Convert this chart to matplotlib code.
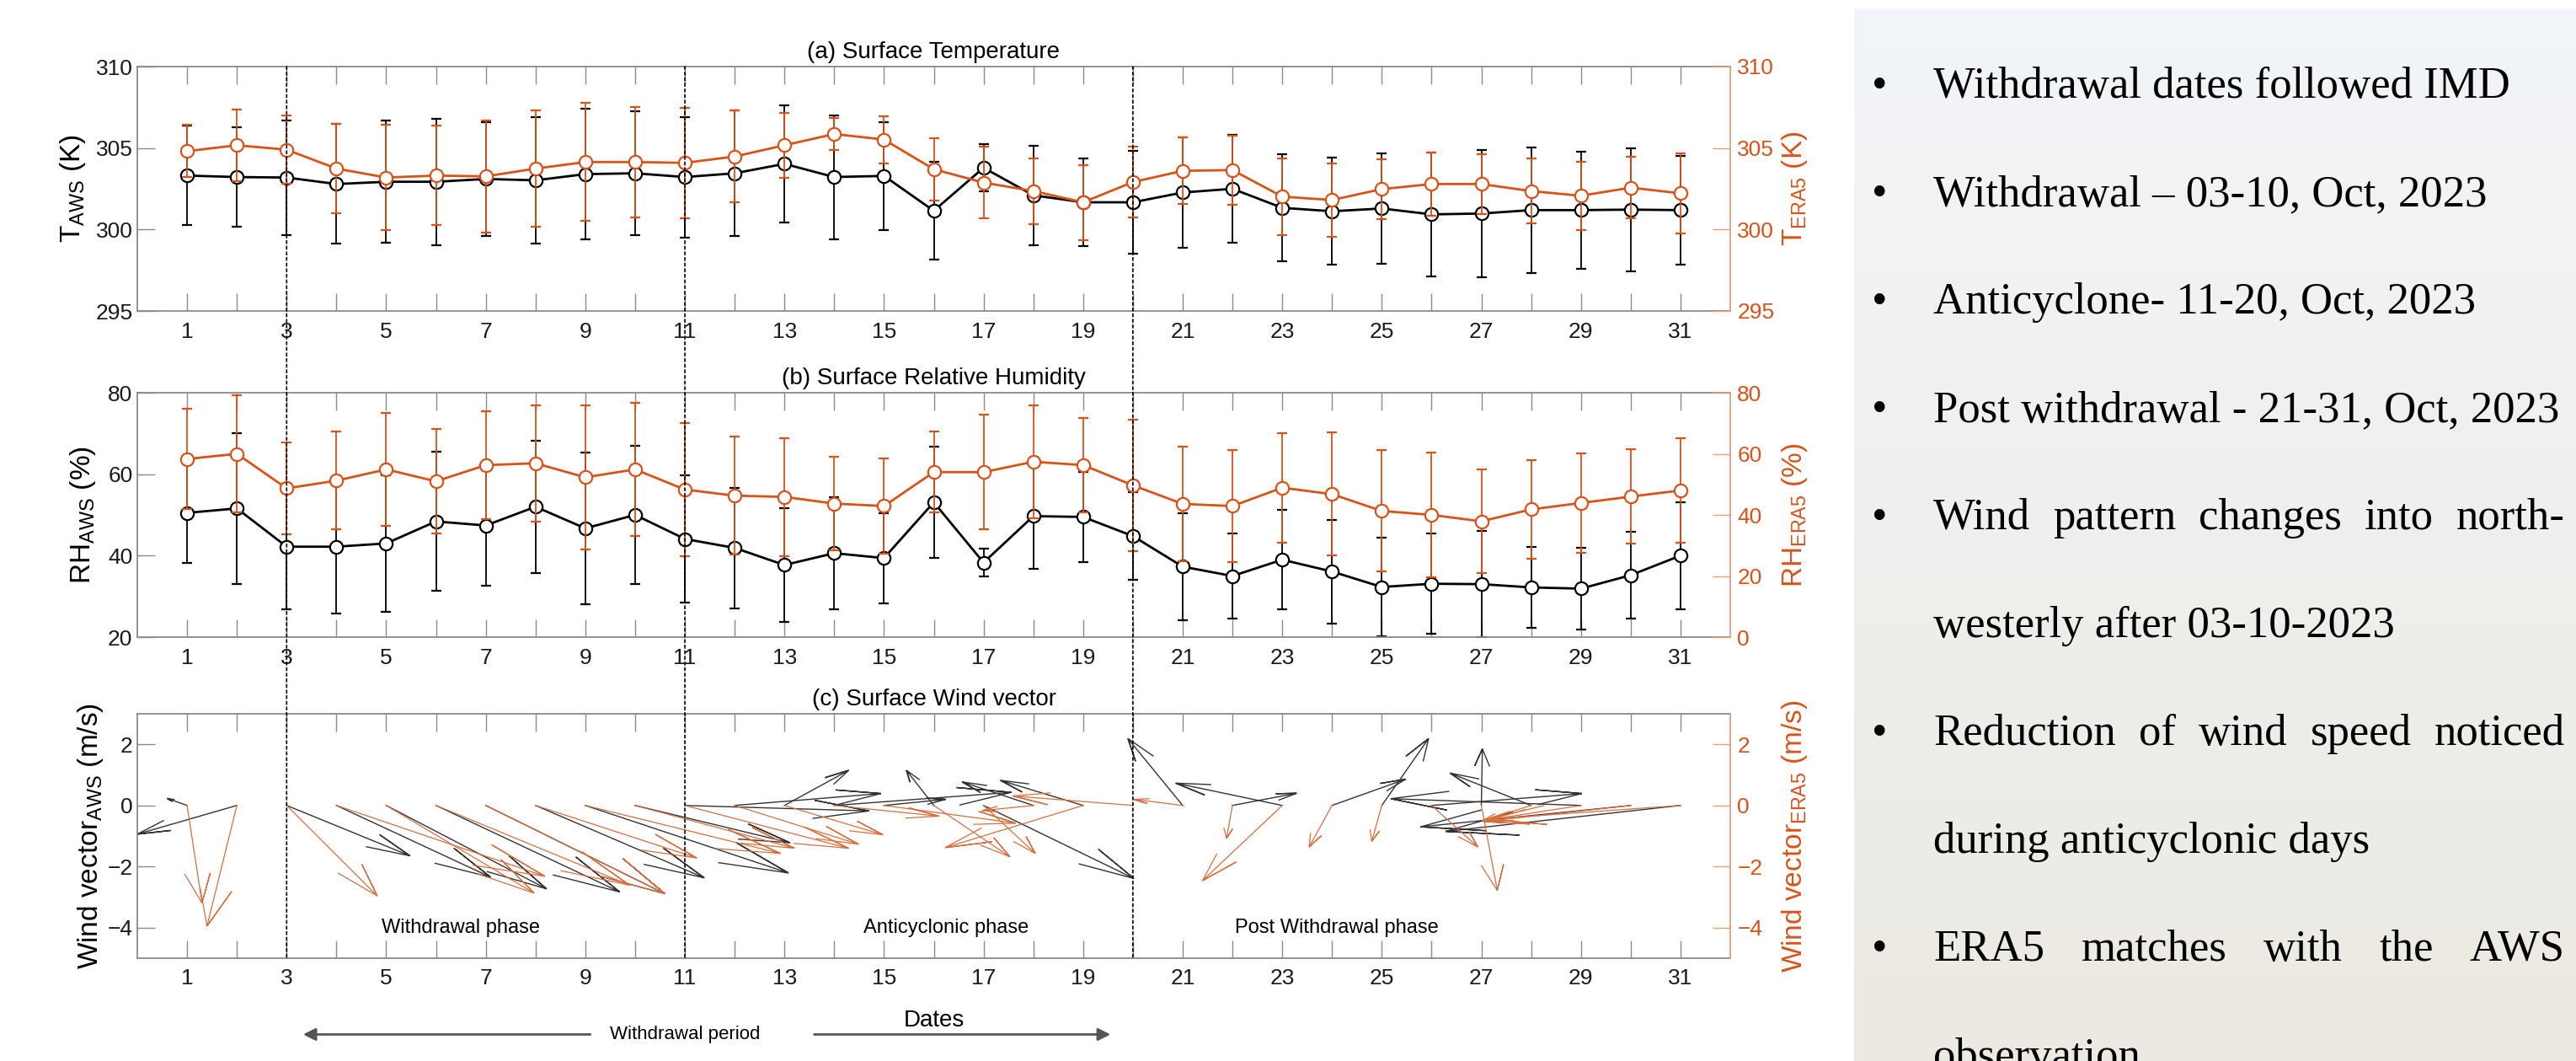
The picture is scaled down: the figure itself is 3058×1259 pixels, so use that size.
import numpy as np
import matplotlib
matplotlib.use('Agg')
import matplotlib.pyplot as plt
from matplotlib.patches import ConnectionPatch

plt.rcParams['font.family'] = ['Liberation Sans', 'DejaVu Sans']

# ---------------- data ----------------
days = np.arange(1, 32)

t_aws = [303.31, 303.22, 303.19, 302.79, 302.93, 302.93, 303.10, 303.02, 303.40, 303.45,
         303.22, 303.45, 304.03, 303.22, 303.29, 301.15, 303.79, 302.10, 301.67, 301.67,
         302.27, 302.50, 301.33, 301.12, 301.29, 300.93, 300.98, 301.19, 301.19, 301.22, 301.19]
t_aws_sd = [3.05, 3.06, 3.52, 3.67, 3.76, 3.88, 3.50, 3.90, 4.00, 3.80, 3.70, 3.85, 3.60, 3.80,
            3.30, 3.00, 1.45, 3.06, 2.70, 3.15, 3.40, 3.33, 3.28, 3.30, 3.37, 3.80, 3.90, 3.85,
            3.58, 3.78, 3.35]
t_era = [304.81, 305.17, 304.90, 303.74, 303.19, 303.31, 303.26, 303.74, 304.14, 304.14,
         304.09, 304.48, 305.17, 305.86, 305.52, 303.70, 302.88, 302.36, 301.67, 302.91,
         303.60, 303.65, 302.02, 301.81, 302.48, 302.79, 302.79, 302.36, 302.07, 302.57, 302.22]
t_era_sd = [1.60, 2.20, 2.08, 2.74, 3.25, 3.05, 3.43, 3.55, 3.62, 3.40, 3.40, 2.83, 2.00, 0.97,
            1.45, 1.92, 2.20, 2.02, 2.30, 2.17, 2.03, 2.13, 2.35, 2.26, 1.85, 1.94, 1.83, 2.00,
            2.10, 1.90, 2.45]

rh_aws = [50.5, 51.6, 42.2, 42.2, 43.0, 48.4, 47.4, 52.0, 46.7, 50.0, 44.1, 41.9, 37.7, 40.6,
          39.4, 53.1, 38.3, 49.7, 49.5, 44.8, 37.3, 35.0, 39.0, 36.1, 32.3, 33.1, 33.0, 32.2,
          31.9, 35.2, 40.0]
rh_aws_sd = [12.2, 18.5, 15.3, 16.4, 16.7, 17.1, 14.8, 16.2, 18.6, 17.0, 15.6, 14.8, 14.0, 13.8,
             11.1, 13.6, 3.4, 13.0, 11.1, 10.8, 13.1, 10.4, 12.2, 12.7, 12.1, 12.3, 13.0, 10.0,
             10.0, 10.6, 13.2]
rh_era = [58.3, 60.0, 48.7, 51.2, 54.9, 51.0, 56.3, 56.9, 52.3, 54.9, 48.3, 46.3, 45.9, 43.7,
          42.9, 54.0, 54.0, 57.4, 56.3, 49.7, 43.6, 42.9, 48.9, 46.8, 41.3, 40.0, 37.9, 41.8,
          43.9, 46.0, 48.0]
rh_era_sd = [16.5, 19.1, 15.0, 16.0, 18.6, 17.1, 17.7, 19.1, 23.6, 21.9, 21.8, 19.4, 19.3, 15.2,
             15.5, 13.3, 18.7, 18.4, 15.4, 21.6, 18.75, 18.3, 17.9, 20.1, 19.9, 20.55, 17.0,
             16.05, 16.25, 15.5, 17.1]

# daily mean wind components (feather plot, m/s)
u_aws = [-0.40, -2.00, 2.48, 3.10, 3.22, 3.69, 3.60, 3.39, 4.08, 3.11, 3.70, 2.94, 1.29, 3.56,
         1.24, -0.55, 3.02, -1.43, -1.66, 0.00, -1.10, 1.29, -2.14, 1.48, 0.94, 3.02, 0.02,
         -1.63, -3.82, -4.22, -4.72]
v_aws = [0.23, -0.94, -1.65, -2.35, -2.73, -2.83, -2.89, -2.37, -2.21, -1.22, -0.18, 0.39, 1.15,
         0.43, 0.20, 1.15, -2.39, 0.77, 0.82, 0.00, 2.19, 0.40, 0.73, 0.86, 2.19, 0.39, 1.85,
         1.06, 0.22, -0.70, -0.85]
u_era = [0.30, -0.60, 1.82, 4.19, 2.97, 3.89, 3.60, 3.24, 3.92, 3.20, 3.29, 2.49, 1.98, 2.10,
         2.65, 1.53, 1.04, -1.03, -2.77, -2.41, -0.99, -0.12, -1.60, -0.46, -0.20, 0.93, 0.32,
         -0.98, -1.98, -2.96, -3.87]
v_era = [-3.19, -3.95, -2.96, -2.32, -2.87, -2.61, -2.89, -1.72, -1.57, -1.40, -1.40, -1.27,
         -0.96, -0.35, -0.58, -1.68, -1.57, -0.17, -1.38, 0.31, 0.20, -1.08, -2.46, -1.36,
         -1.17, -1.36, -2.78, -0.50, -0.50, -0.53, -0.45]

phase_lines = [3, 11, 20]
phases = [('Withdrawal phase', 6.5), ('Anticyclonic phase', 16.25), ('Post Withdrawal phase', 24.1)]

notes = [
    ('Withdrawal dates followed IMD', True, False),
    ('Withdrawal \u2013 03-10, Oct, 2023', True, False),
    ('Anticyclone- 11-20, Oct, 2023', True, False),
    ('Post withdrawal - 21-31, Oct, 2023', True, False),
    ('Wind pattern changes into north-', True, True),
    ('westerly after 03-10-2023', False, False),
    ('Reduction of wind speed noticed', True, True),
    ('during anticyclonic days', False, False),
    ('ERA5 matches with the AWS', True, True),
    ('observation', False, False),
]

# ---------------- figure ----------------
W, H = 3058, 1259
fig = plt.figure(figsize=(W / 100, H / 100), dpi=100)

GRAY = '#8a8a8a'
ORANGE = '#D95319'
ORANGE_LT = '#E6A07A'


def px_axes(left, top, right, bottom):
    return fig.add_axes([left / W, 1 - bottom / H, (right - left) / W, (bottom - top) / H])


def style(ax, axr, ylim, ylim_r, yt, yt_r, title):
    ax.set_xlim(0, 32)
    ax.set_xticks(days)
    ax.set_xticklabels([str(d) if d % 2 else '' for d in days])
    ax.set_ylim(*ylim)
    ax.set_yticks(yt)
    axr.set_ylim(*ylim_r)
    axr.set_yticks(yt_r)
    ax.tick_params(axis='x', direction='in', length=15, width=1, top=True, color=GRAY,
                   labelcolor='#1a1a1a', labelsize=19, pad=9)
    ax.tick_params(axis='y', direction='in', length=15, width=1, color=GRAY,
                   labelcolor='#1a1a1a', labelsize=19, pad=4)
    axr.tick_params(axis='y', direction='in', length=15, width=1, color=ORANGE_LT,
                    labelcolor=ORANGE, labelsize=19, pad=6)
    for s in ['left', 'top', 'bottom']:
        ax.spines[s].set_color(GRAY)
        ax.spines[s].set_linewidth(1.3)
        axr.spines[s].set_visible(False)
    ax.spines['right'].set_visible(False)
    axr.spines['right'].set_color(ORANGE_LT)
    axr.spines['right'].set_linewidth(1.3)
    ax.set_title(title, fontsize=20, pad=7)


def feather(ax, u, v, color, lw):
    head = np.array([0, 1, 0.7, 1, 0.7]) + 1j * np.array([0, 0, 0.08, 0, -0.08])
    for d, uu, vv in zip(days, u, v):
        if uu == 0 and vv == 0:
            continue
        pts = head * complex(uu, vv) + d
        ax.plot(pts.real, pts.imag, color=color, lw=lw, solid_joinstyle='miter')


ax1 = px_axes(163, 79, 2054, 369)
ax2 = px_axes(163, 466, 2054, 756)
ax3 = px_axes(163, 847, 2054, 1137)
ax1r = ax1.twinx()
ax2r = ax2.twinx()
ax3r = ax3.twinx()

eb_k = dict(color='k', lw=2.0, marker='o', ms=11, mfc='white', mec='k', mew=1.6,
            ecolor='k', elinewidth=1.3, capsize=4, capthick=1.8)
eb_o = dict(color=ORANGE, lw=2.0, marker='o', ms=11, mfc='white', mec=ORANGE, mew=1.6,
            ecolor=ORANGE, elinewidth=1.3, capsize=4, capthick=1.8)

# (a) temperature
ax1.errorbar(days, t_aws, yerr=t_aws_sd, **eb_k)
ax1r.errorbar(days, t_era, yerr=t_era_sd, **eb_o)
style(ax1, ax1r, (295, 310), (295, 310), [295, 300, 305, 310], [295, 300, 305, 310],
      '(a) Surface Temperature')
ax1.set_ylabel(r'T$_\mathregular{AWS}$ (K)', fontsize=24)
ax1r.set_ylabel(r'T$_\mathregular{ERA5}$ (K)', fontsize=24, color=ORANGE)

# (b) relative humidity
ax2.errorbar(days, rh_aws, yerr=rh_aws_sd, **eb_k)
ax2r.errorbar(days, rh_era, yerr=rh_era_sd, **eb_o)
style(ax2, ax2r, (20, 80), (0, 80), [20, 40, 60, 80], [0, 20, 40, 60, 80],
      '(b) Surface Relative Humidity')
ax2.set_ylabel(r'RH$_\mathregular{AWS}$ (%)', fontsize=24)
ax2r.set_ylabel(r'RH$_\mathregular{ERA5}$ (%)', fontsize=24, color=ORANGE)

# (c) wind vectors
feather(ax3, u_aws, v_aws, '#333333', 1.0)
feather(ax3, u_era, v_era, '#D86F3E', 0.9)
style(ax3, ax3r, (-5, 3), (-5, 3), [-4, -2, 0, 2], [-4, -2, 0, 2],
      '(c) Surface Wind vector')
ax3.set_ylabel(r'Wind vector$_\mathregular{AWS}$ (m/s)', fontsize=24)
ax3r.set_ylabel(r'Wind vector$_\mathregular{ERA5}$ (m/s)', fontsize=24, color=ORANGE)
ax3.set_xlabel('Dates', fontsize=20, labelpad=18)
for name, xd in phases:
    ax3.text(xd, -4.0, name, fontsize=17, ha='center', va='center')

ax1.yaxis.set_label_coords(-0.031, 0.5)
ax2.yaxis.set_label_coords(-0.025, 0.5)
ax3.yaxis.set_label_coords(-0.020, 0.5)
for a in (ax1r, ax2r, ax3r):
    a.yaxis.set_label_coords(1.031, 0.5)

# phase separators running through all three panels
for xd in phase_lines:
    con = ConnectionPatch(xyA=(xd, 310), coordsA=ax1.transData,
                          xyB=(xd, -5), coordsB=ax3.transData,
                          color='k', lw=1.2, linestyle=(0, (2, 2)))
    fig.add_artist(con)

# withdrawal period arrows under the x axis
tr = ax3.get_xaxis_transform()
arrow_kw = dict(arrowstyle='-|>', color='#555555', lw=2, mutation_scale=22,
                shrinkA=0, shrinkB=0)
ax3.annotate('', xy=(3.33, -0.312), xytext=(9.1, -0.312), xycoords=tr, textcoords=tr,
             arrowprops=arrow_kw, annotation_clip=False)
ax3.annotate('', xy=(19.55, -0.312), xytext=(13.6, -0.312), xycoords=tr, textcoords=tr,
             arrowprops=arrow_kw, annotation_clip=False)
ax3.text(11.0, -0.312, 'Withdrawal period', transform=tr, fontsize=16, ha='center',
         va='center', clip_on=False)

# ---------------- notes panel ----------------
bx = fig.add_axes([2201 / W, 0, (W - 2201) / W, (H - 10) / H])
top_c = np.array([242, 245, 249]) / 255
bot_c = np.array([236, 233, 225]) / 255
t = np.linspace(0, 1, 256)[:, None, None]
grad = top_c * (1 - t) + bot_c * t
bx.imshow(grad, aspect='auto', extent=(0, 1, 0, 1))
bx.axis('off')

renderer = fig.canvas.get_renderer()
serif = dict(family=['Liberation Serif', 'DejaVu Serif'], fontsize=38, va='baseline',
             color='black')
x_left, x_right, x_bullet = 2295, 3045, 2231
for k, (line, bullet, just) in enumerate(notes):
    yb = 1 - (116 + 128 * k) / H
    if bullet:
        fig.text(x_bullet / W, yb, '\u2022', ha='center', **serif)
    if not just:
        fig.text(x_left / W, yb, line, ha='left', **serif)
        continue
    words = line.split(' ')
    objs = [fig.text(0, yb, w, ha='left', **serif) for w in words]
    widths = [o.get_window_extent(renderer).width for o in objs]
    gap = (x_right - x_left - sum(widths)) / (len(words) - 1)
    x = x_left
    for o, w in zip(objs, widths):
        o.set_x(x / W)
        x += w + gap

fig.savefig('out.png', dpi=100)
